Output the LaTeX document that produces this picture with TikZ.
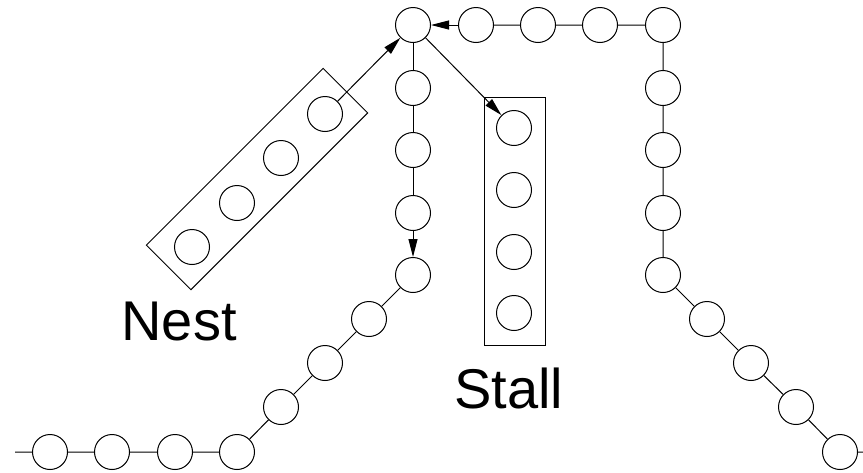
\documentclass[tikz,border=0pt]{standalone}
\usepackage{fontspec}
\setmainfont{Liberation Sans}
\usetikzlibrary{arrows.meta}
\tikzset{bd/.style = {circle, line width=1pt, minimum size=35pt, inner sep=0pt, draw},
           pen/.style = {line width=1pt, draw, inner sep=0pt},
           lb/.style = {anchor=base west, inner sep=0pt, font=\fontsize{56}{60}\selectfont}}

\begin{document}
\begin{tikzpicture}[x=1pt, y=-1pt, >={Triangle[length=18pt, width=9pt]}, line width=1pt]
    \useasboundingbox (0,0) rectangle (863,472);
    % hub and top row
    \node[bd] (h) at (413,25) {};
    \node[bd] (t1) at (476,25) {}; \node[bd] (t2) at (538,25) {};
    \node[bd] (t3) at (600,25) {}; \node[bd] (t4) at (663,25) {};
    % right branch
    \node[bd] (r1) at (663,88) {}; \node[bd] (r2) at (663,150) {};
    \node[bd] (r3) at (663,213) {}; \node[bd] (r4) at (663,275) {};
    \node[bd] (d1) at (707,319) {}; \node[bd] (d2) at (751,363) {};
    \node[bd] (d3) at (796,407) {}; \node[bd] (d4) at (840,452) {};
    \coordinate (re) at (875,452);
    % middle branch
    \node[bd] (m1) at (413,88) {}; \node[bd] (m2) at (413,150) {};
    \node[bd] (m3) at (413,213) {}; \node[bd] (m4) at (413,275) {};
    \node[bd] (l1) at (369,319) {}; \node[bd] (l2) at (325,363) {};
    \node[bd] (l3) at (281,407) {}; \node[bd] (l4) at (237,452) {};
    \node[bd] (b1) at (175,452) {}; \node[bd] (b2) at (112,452) {};
    \node[bd] (b3) at (50,452) {};
    \coordinate (le) at (15,452);
    % nest
    \node[bd] (n1) at (325,114) {}; \node[bd] (n2) at (281,158) {};
    \node[bd] (n3) at (237,203) {}; \node[bd] (n4) at (192,247) {};
    \node[pen, rotate=45, minimum width=250pt, minimum height=63pt] (nb) at (257,179) {};
    % stall
    \node[bd] (s1) at (514,128) {}; \node[bd] (s2) at (514,190) {};
    \node[bd] (s3) at (514,252) {}; \node[bd] (s4) at (514,313) {};
    \node[pen, minimum width=61pt, minimum height=248pt] (sb) at (515,221) {};
    % labels
    \node[lb] (nl) at (121,340) {Nest};
    \node[lb] (sl) at (454,408) {Stall};
    % links
    \draw (t1) -- (t2) -- (t3) -- (t4) -- (r1) -- (r2) -- (r3) -- (r4)
          -- (d1) -- (d2) -- (d3) -- (d4) -- (re);
    \draw (h) -- (m1) -- (m2) -- (m3);
    \draw (m4) -- (l1) -- (l2) -- (l3) -- (l4) -- (b1) -- (b2) -- (b3) -- (le);
    \draw[->] (t1) -- (h);
    \draw[->] (n1) -- (h);
    \draw[->] (h) -- (s1);
    \draw[->] (m3) -- (m4);
\end{tikzpicture}
\end{document}
